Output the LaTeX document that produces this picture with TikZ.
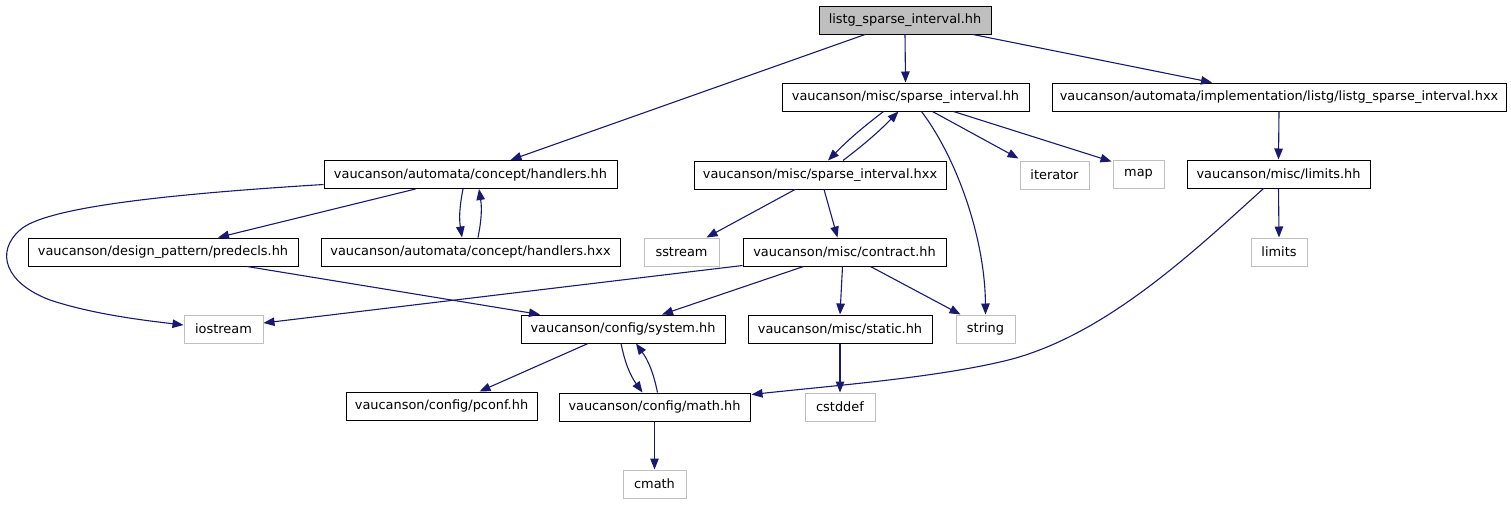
\documentclass[tikz,border=0pt]{standalone}
\usepackage{fontspec}
\setmainfont{DejaVu Sans}
\usetikzlibrary{arrows.meta}
\definecolor{edgeblue}{HTML}{191970}
\definecolor{lightgr}{HTML}{BFBFBF}
\begin{document}
\begin{tikzpicture}[x=1pt,y=-1pt,
  box/.style={draw=black, line width=1pt, rectangle, inner sep=0pt, minimum height=28pt, font=\fontsize{12.9}{14}\selectfont},
  ext/.style={box, draw=lightgr},
  root/.style={box, fill=lightgr},
  dep/.style={draw=edgeblue, line width=1.1pt, -{Triangle[length=11pt,width=8.5pt]}}]
\path[use as bounding box] (0,0) rectangle (1511,504);

\node[root, minimum width=172pt] (r) at (905,20) {listg\_sparse\_interval.hh};
\node[box, minimum width=247pt] (sih) at (905.5,97) {vaucanson/misc/sparse\_interval.hh};
\node[box, minimum width=454pt] (lsh) at (1279,97) {vaucanson/automata/implementation/listg/listg\_sparse\_interval.hxx};
\node[box, minimum width=293pt] (hh) at (470.5,174.5) {vaucanson/automata/concept/handlers.hh};
\node[box, minimum width=299pt] (hxx) at (470.5,252) {vaucanson/automata/concept/handlers.hxx};
\node[box, minimum width=252pt] (sihx) at (820,175) {vaucanson/misc/sparse\_interval.hxx};
\node[ext, minimum width=69pt] (iter) at (1054.5,175) {iterator};
\node[ext, minimum width=51pt] (map) at (1138.5,174) {map};
\node[box, minimum width=183pt] (limh) at (1278.5,174) {vaucanson/misc/limits.hh};
\node[ext, minimum width=56pt] (lim) at (1279,252) {limits};
\node[box, minimum width=270pt] (pred) at (163,252) {vaucanson/design\_pattern/predecls.hh};
\node[ext, minimum width=75pt] (sstream) at (681.5,252) {sstream};
\node[box, minimum width=203pt] (contract) at (844.5,252) {vaucanson/misc/contract.hh};
\node[ext, minimum width=79pt] (iostream) at (223.5,329) {iostream};
\node[box, minimum width=204pt] (system) at (623,329) {vaucanson/config/system.hh};
\node[box, minimum width=184pt] (static) at (840,329) {vaucanson/misc/static.hh};
\node[ext, minimum width=59pt] (string) at (985.5,329) {string};
\node[box, minimum width=191pt] (pconf) at (441.5,406) {vaucanson/config/pconf.hh};
\node[box, minimum width=191pt] (math) at (654.5,407) {vaucanson/config/math.hh};
\node[ext, minimum width=70pt] (cstddef) at (840,407) {cstddef};
\node[ext, minimum width=63pt] (cmath) at (654.5,484) {cmath};

\draw[dep] ([xshift=-40pt]r.south) -- ([xshift=40pt]hh.north);
\draw[dep] (r.south) -- (sih.north);
\draw[dep] ([xshift=68pt]r.south) -- ([xshift=-67pt]lsh.north);

\draw[dep] ([xshift=-22pt]sih.south) to[bend right=4] ([xshift=8pt]sihx.north);
\draw[dep] ([xshift=23pt]sihx.north) to[bend right=4] ([xshift=-7pt]sih.south);
\draw[dep] ([xshift=27pt]sih.south) -- ([xshift=-1pt,yshift=2pt]iter.north west);
\draw[dep] ([xshift=48pt]sih.south) -- ([xshift=-1pt,yshift=-2pt]map.north west);
\draw[dep] ([xshift=16pt]sih.south) .. controls (958,160) and (985,240) .. (string.north);

\draw[dep] (lsh.south) -- (limh.north);
\draw[dep] (limh.south) -- (lim.north);
\draw[dep] ([xshift=-15pt]limh.south) .. controls (1190,255) and (1100,340) .. (1000,362)
  .. controls (930,378) and (840,385) .. ([xshift=1pt,yshift=-2pt]math.north east);

\draw[dep] ([yshift=-10pt]hh.west) .. controls (170,194) and (45,207) .. (20,230)
  .. controls (-5,252) and (5,283) .. (50,300)
  .. controls (95,315) and (150,321) .. ([yshift=4pt]iostream.west);
\draw[dep] ([xshift=-55pt]hh.south) -- ([xshift=55pt]pred.north);
\draw[dep] ([xshift=-7.5pt]hh.south) to[bend right=10] ([xshift=-8.5pt]hxx.north);
\draw[dep] ([xshift=7.5pt]hxx.north) to[bend right=10] ([xshift=8.5pt]hh.south);

\draw[dep] ([xshift=-25pt]sihx.south) -- ([xshift=25pt]sstream.north);
\draw[dep] ([xshift=4pt]sihx.south) -- ([xshift=-7pt]contract.north);

\draw[dep] ([xshift=84pt]pred.south) -- ([xshift=-83pt]system.north);
\draw[dep] ([yshift=1pt]contract.south west) -- ([yshift=6pt]iostream.east);
\draw[dep] ([xshift=-41pt]contract.south) -- ([xshift=39pt]system.north);
\draw[dep] ([xshift=-2pt]contract.south) -- (static.north);
\draw[dep] ([xshift=26pt]contract.south) -- ([xshift=-25pt]string.north);

\draw[dep] ([xshift=-35pt]system.south) -- ([xshift=38pt]pconf.north);
\draw[dep] ([xshift=-2pt]system.south) to[bend right=12] ([xshift=-12pt]math.north);
\draw[dep] ([xshift=3pt]math.north) to[bend right=12] ([xshift=13pt]system.south);
\draw[dep] (static.south) -- (cstddef.north);
\draw[dep] (math.south) -- (cmath.north);
\end{tikzpicture}
\end{document}
